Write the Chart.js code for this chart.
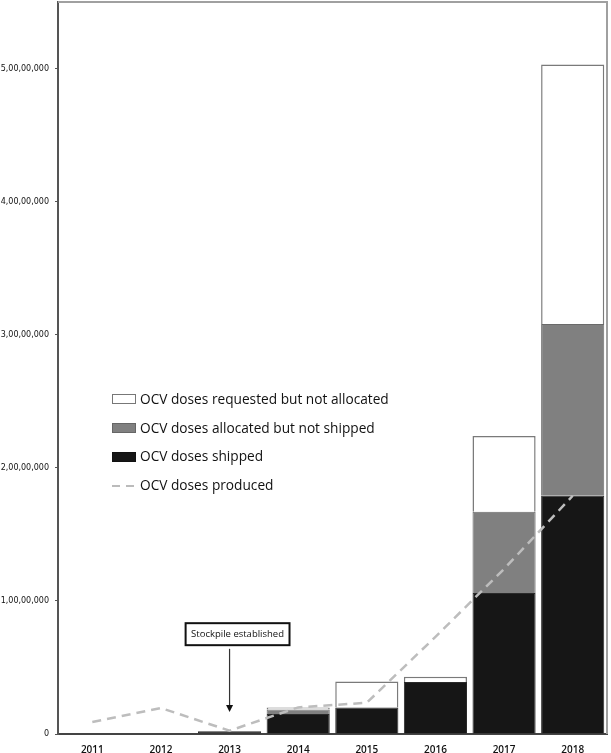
<!DOCTYPE html>
<html>
<head>
<meta charset="utf-8">
<script src="https://cdn.jsdelivr.net/npm/chart.js@4/dist/chart.umd.min.js"></script>
<style>
body { margin: 0; background: #fff; }
#wrap { position: relative; width: 611px; height: 753px; }
#legend { position: absolute; left: 112px; top: 386px; font-family: "Open Sans", sans-serif; font-size: 13.7px; color: #111; }
#legend .row { height: 28.7px; line-height: 26px; white-space: nowrap; }
#legend .sw { display: inline-block; width: 24px; height: 10px; vertical-align: middle; margin-right: 4px; box-sizing: border-box; position: relative; top: -1px; }
#legend .dash { display: inline-block; width: 24px; height: 10px; vertical-align: middle; margin-right: 4px; position: relative; top: -1px;
  background: linear-gradient(to right, #bbb 0 8px, transparent 8px 14px, #bbb 14px 22px, transparent 22px); background-size: 100% 2px; background-repeat: no-repeat; background-position: 0 5px; }
</style>
</head>
<body>
<div id="wrap">
<canvas id="myChart1" width="611" height="753"></canvas>
<div id="legend"></div>
</div>
<script>
// years on the x axis
let years = ['2011','2012','2013','2014','2015','2016','2017','2018'];
// stacked bars (doses)
let shipped   = [0, 0, 200000, 1500000, 2000000, 3900000, 10600000, 17900000];
let allocated = [0, 0, 0, 350000, 0, 0, 6100000, 12900000];
let requested = [0, 0, 0, 150000, 1950000, 400000, 5700000, 19500000];
// line
let produced  = [900000, 1950000, 250000, 2000000, 2350000, 7300000, 12400000, 17900000];
// y ticks
let yTicks = [0, 10000000, 20000000, 30000000, 40000000, 50000000];

let legendItems = [
  ['box', '#ffffff', '#777', 'OCV doses requested but not allocated'],
  ['box', '#808080', '#666', 'OCV doses allocated but not shipped'],
  ['box', '#161616', '#111', 'OCV doses shipped'],
  ['dash', '#bbb', '', 'OCV doses produced']
];

// annotation: label and arrow at 2013
let note = { index: 2, text: 'Stockpile established', boxValue: 7500000, arrowFrom: 6400000, arrowTo: 1650000 };

var html = '';
for (var i in legendItems) {
  var it = legendItems[i];
  if (it[0] == 'box') {
    html += '<div class="row"><span class="sw" style="background:' + it[1] + ';border:1px solid ' + it[2] + '"></span>' + it[3] + '</div>';
  } else {
    html += '<div class="row"><span class="dash"></span>' + it[3] + '</div>';
  }
}
document.getElementById('legend').innerHTML = html;

const framePlugin = {
  id: 'frame',
  afterDatasetsDraw(chart) {
    const ctx = chart.ctx;
    const a = chart.chartArea;
    ctx.save();
    // light frame top/right
    ctx.strokeStyle = '#a0a0a0';
    ctx.lineWidth = 2;
    ctx.beginPath();
    ctx.moveTo(a.left, a.top);
    ctx.lineTo(a.right, a.top);
    ctx.lineTo(a.right, a.bottom);
    ctx.stroke();
    // annotation
    const x = chart.scales.x.getPixelForValue(note.index);
    const y = chart.scales.y;
    const yb = y.getPixelForValue(note.boxValue);
    ctx.font = '9.5px "Open Sans", sans-serif';
    const tw = ctx.measureText(note.text).width;
    const bw = tw + 11, bh = 22;
    const cx = x + 8;
    ctx.fillStyle = '#fff';
    ctx.fillRect(cx - bw / 2, yb - bh / 2, bw, bh);
    ctx.strokeStyle = '#111';
    ctx.lineWidth = 2;
    ctx.strokeRect(cx - bw / 2, yb - bh / 2, bw, bh);
    ctx.fillStyle = '#111';
    ctx.textAlign = 'center';
    ctx.textBaseline = 'middle';
    ctx.fillText(note.text, cx, yb);
    const y1 = y.getPixelForValue(note.arrowFrom);
    const y2 = y.getPixelForValue(note.arrowTo);
    ctx.strokeStyle = '#333';
    ctx.lineWidth = 1.2;
    ctx.beginPath();
    ctx.moveTo(x, y1);
    ctx.lineTo(x, y2 - 6);
    ctx.stroke();
    ctx.beginPath();
    ctx.moveTo(x - 3.5, y2 - 7);
    ctx.lineTo(x + 3.5, y2 - 7);
    ctx.lineTo(x, y2);
    ctx.closePath();
    ctx.fill();
    ctx.restore();
  }
};

const data = {
  labels: years,
  datasets: [
    {
      type: 'line',
      label: 'OCV doses produced',
      data: produced,
      borderColor: '#bdbdbd',
      borderWidth: 2.5,
      borderDash: [9, 6],
      pointRadius: 0,
      tension: 0,
      order: 0
    },
    {
      label: 'OCV doses shipped',
      data: shipped,
      backgroundColor: '#161616',
      borderColor: '#2a2a2a',
      borderWidth: 1,
      stack: 's',
      order: 1
    },
    {
      label: 'OCV doses allocated but not shipped',
      data: allocated,
      backgroundColor: '#808080',
      borderColor: '#6a6a6a',
      borderWidth: 1,
      stack: 's',
      order: 1
    },
    {
      label: 'OCV doses requested but not allocated',
      data: requested,
      backgroundColor: '#ffffff',
      borderColor: '#7a7a7a',
      borderWidth: 1.5,
      stack: 's',
      order: 1
    }
  ]
};

const config = {
  type: 'bar',
  data: data,
  options: {
    responsive: false,
    animation: false,
    layout: { padding: { top: 2, right: 4, left: 0, bottom: 0 } },
    plugins: { legend: { display: false }, tooltip: { enabled: false } },
    datasets: { bar: { categoryPercentage: 1, barPercentage: 0.92 } },
    scales: {
      x: {
        stacked: true,
        grid: { display: false },
        border: { color: '#444', width: 2 },
        ticks: { color: '#111', font: { family: 'Open Sans', size: 10, weight: '600' }, padding: 2 },
        afterFit: function (s) { s.height = 19; s.paddingLeft = 0; s.paddingRight = 0; }
      },
      y: {
        stacked: true,
        min: 0,
        max: 55000000,
        afterBuildTicks: function (s) { s.ticks = yTicks.map(v => ({ value: v })); },
        grid: { display: true, drawOnChartArea: false, drawTicks: true, tickLength: 3, color: '#555' },
        border: { color: '#555', width: 2 },
        ticks: {
          color: '#111',
          font: { family: 'DejaVu Sans', size: 8 },
          padding: 6,
          callback: function (v) { return Number(v).toLocaleString('en-IN'); }
        },
        afterFit: function (s) { s.width = 58; s.paddingTop = 0; s.paddingBottom = 0; }
      }
    }
  },
  plugins: [framePlugin]
};

const myChart1 = new Chart(document.getElementById('myChart1'), config);
</script>
</body>
</html>
